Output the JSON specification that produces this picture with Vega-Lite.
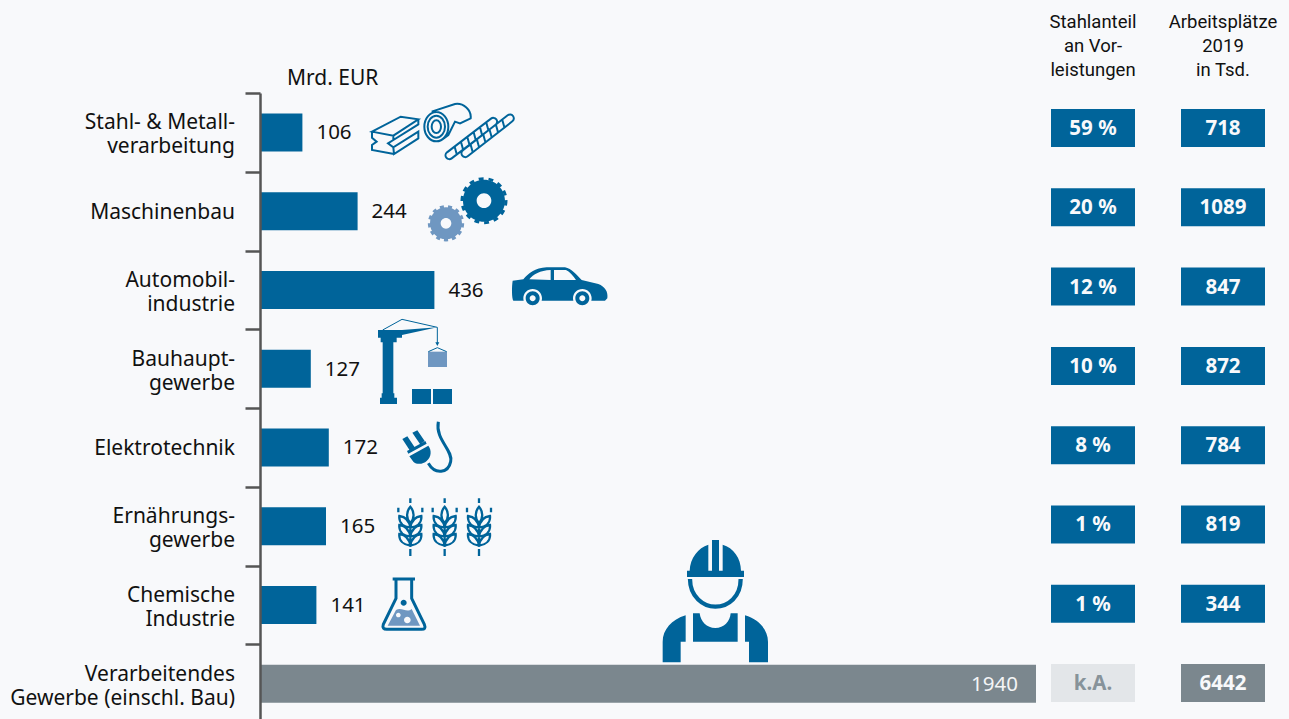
{
"$schema":"https://vega.github.io/schema/vega-lite/v6.json",
"background":"#f8f9fb",
"padding":{"left":0,"top":12,"right":14,"bottom":0},
"bounds":"flush",
"spacing":15,
"config":{"view":{"stroke":null},"font":"Noto Sans","title":{"font":"Roboto","fontSize":18.5,"fontWeight":"normal","color":"#111111","lineHeight":24}},
"data":{"values":[
{"branche":"Stahl- & Metall-|verarbeitung","icon":"stahl","art":"Branche","wert":106,"anteil":"59 %","jobs":718},
{"branche":"Maschinenbau","icon":"zahnrad","art":"Branche","wert":244,"anteil":"20 %","jobs":1089},
{"branche":"Automobil-|industrie","icon":"auto","art":"Branche","wert":436,"anteil":"12 %","jobs":847},
{"branche":"Bauhaupt-|gewerbe","icon":"kran","art":"Branche","wert":127,"anteil":"10 %","jobs":872},
{"branche":"Elektrotechnik","icon":"stecker","art":"Branche","wert":172,"anteil":"8 %","jobs":784},
{"branche":"Ernährungs-|gewerbe","icon":"aehre","art":"Branche","wert":165,"anteil":"1 %","jobs":819},
{"branche":"Chemische|Industrie","icon":"kolben","art":"Branche","wert":141,"anteil":"1 %","jobs":344},
{"branche":"Verarbeitendes|Gewerbe (einschl. Bau)","icon":"gesamt","art":"Gesamt","wert":1940,"anteil":"k.A.","jobs":6442}
]},
"hconcat":[
{"width":776,"height":630,
"title":{"text":"Mrd. EUR","anchor":"start","frame":"group","dx":27,"offset":3,"font":"Noto Sans","fontSize":21},
"encoding":{
"x":{"field":"wert","type":"quantitative","scale":{"domain":[0,1940]},"axis":null},
"y":{"field":"branche","type":"nominal","sort":null,"title":null,
"scale":{"domain":["Stahl- & Metall-|verarbeitung","Maschinenbau","Automobil-|industrie","Bauhaupt-|gewerbe","Elektrotechnik","Ernährungs-|gewerbe","Chemische|Industrie","Verarbeitendes|Gewerbe (einschl. Bau)"],"paddingInner":0,"paddingOuter":0},
"axis":{"tickBand":"extent","tickSize":15,"tickWidth":2.5,"tickColor":"#555555","domainColor":"#555555","domainWidth":2.5,"labels":false,"minExtent":260,"maxExtent":260,"zindex":1}}
},
"layer":[
{"mark":{"type":"bar","size":38},"encoding":{"color":{"condition":{"test":"datum.art=='Gesamt'","value":"#7b878e"},"value":"#00649a"}}},
{"transform":[{"filter":"indexof(datum.branche,'|')>=0"}],"mark":{"type":"text","align":"right","dx":-25,"dy":-9,"fontSize":21,"color":"#111111","lineBreak":"|","lineHeight":24},"encoding":{"x":{"datum":0,"type":"quantitative","axis":null},"text":{"field":"branche","type":"nominal"}}},
{"transform":[{"filter":"indexof(datum.branche,'|')<0"}],"mark":{"type":"text","align":"right","dx":-25,"dy":2,"fontSize":21,"color":"#111111"},"encoding":{"x":{"datum":0,"type":"quantitative","axis":null},"text":{"field":"branche","type":"nominal"}}},
{"transform":[{"filter":"datum.art=='Branche'"}],"mark":{"type":"text","align":"left","dx":14,"dy":1,"fontSize":20.5,"color":"#111111"},"encoding":{"text":{"field":"wert","type":"nominal"}}},
{"transform":[{"filter":"datum.art=='Gesamt'"}],"mark":{"type":"text","align":"right","dx":-18,"dy":1,"fontSize":20.5,"color":"#f4f5f6"},"encoding":{"text":{"field":"wert","type":"nominal"}}},

{"transform":[{"filter":"datum.icon=='stahl'"}],"mark":{"type":"point","size":0.44444,"opacity":1,"filled":false,"stroke":"#00649a","strokeWidth":2,"xOffset":100,"yOffset":-42.375,
"shape":"M36,125 L122,80 L175,88 L100,137 Z M175,88 L175,103 L100,150 L100,137 M100,150 L84,160 L100,172 L175,125 L175,145 L102,192 L100,172 M102,192 L36,180 L36,165 L50,155 L36,143 L36,125 M229,66 C249,66 265,86 265,110 C265,134 249,154 229,154 C209,154 193,134 193,110 C193,86 209,66 229,66 Z M229,77 C243,77 255,92 255,110 C255,128 243,143 229,143 C215,143 203,128 203,110 C203,92 215,77 229,77 Z M229,91 C237,91 243,100 243,110 C243,120 237,129 229,129 C221,129 215,120 215,110 C215,100 221,91 229,91 Z M215,65 L285,42 C310,38 335,60 332,85 L300,100 L285,95 L265,135 L245,150 M261,187 L393,86 A11,11 0 0 1 407,104 L275,205 A11,11 0 0 1 261,187 Z M309,181 L443,76 A11,11 0 0 1 457,94 L323,199 A11,11 0 0 1 309,181 Z M284,170 L290,192 M303,156 L309,178 M322,141 L328,163 M341,127 L347,149 M360,112 L366,134 M379,98 L385,120 M332,164 L338,186 M351,149 L357,171 M370,134 L376,156 M389,120 L395,142 M408,105 L414,127 M427,90 L433,112"},
"encoding":{"x":{"datum":0,"type":"quantitative","axis":null}}},

{"transform":[{"filter":"datum.icon=='zahnrad'"}],"mark":{"type":"point","size":0.44444,"opacity":1,"filled":true,"fill":"#6f97c1","xOffset":100,"yOffset":-121.125,
"shape":"M306,400 A48,48 0 1 1 210,400 A48,48 0 1 1 306,400 Z M274,400 A16,16 0 1 0 242,400 A16,16 0 1 0 274,400 Z"},
"encoding":{"x":{"datum":0,"type":"quantitative","axis":null}}},
{"transform":[{"filter":"datum.icon=='zahnrad'"}],"mark":{"type":"point","size":0.44444,"opacity":1,"filled":false,"stroke":"#6f97c1","strokeWidth":3,"strokeDash":[4,4],"xOffset":100,"yOffset":-121.125,
"shape":"M308,400 A50,50 0 1 1 208,400 A50,50 0 1 1 308,400 Z"},
"encoding":{"x":{"datum":0,"type":"quantitative","axis":null}}},
{"transform":[{"filter":"datum.icon=='zahnrad'"}],"mark":{"type":"point","size":0.44444,"opacity":1,"filled":true,"fill":"#00649a","xOffset":100,"yOffset":-121.125,
"shape":"M435,332 A63,63 0 1 1 309,332 A63,63 0 1 1 435,332 Z M394,332 A22,22 0 1 0 350,332 A22,22 0 1 0 394,332 Z"},
"encoding":{"x":{"datum":0,"type":"quantitative","axis":null}}},
{"transform":[{"filter":"datum.icon=='zahnrad'"}],"mark":{"type":"point","size":0.44444,"opacity":1,"filled":false,"stroke":"#00649a","strokeWidth":3,"strokeDash":[4.9,4.9],"xOffset":100,"yOffset":-121.125,
"shape":"M438,332 A66,66 0 1 1 306,332 A66,66 0 1 1 438,332 Z"},
"encoding":{"x":{"datum":0,"type":"quantitative","axis":null}}},

{"transform":[{"filter":"datum.icon=='auto'"}],"mark":{"type":"point","size":0.44444,"opacity":1,"filled":true,"fill":"#00649a","xOffset":100,"yOffset":-199.875,
"shape":"M458,572 L490,568 C505,550 525,534 560,532 L615,532 C635,536 650,555 665,570 L715,582 C735,590 745,605 742,625 L735,632 L460,632 C455,625 455,590 458,572 Z"},
"encoding":{"x":{"datum":0,"type":"quantitative","axis":null}}},
{"transform":[{"filter":"datum.icon=='auto'"}],"mark":{"type":"point","size":0.44444,"opacity":1,"filled":true,"fill":"#f8f9fb","xOffset":100,"yOffset":-199.875,
"shape":"M508,568 C520,552 540,542 572,540 L572,570 Z M582,540 L618,540 C630,545 640,558 648,570 L582,570 Z M546,625 A28,28 0 1 1 490,625 A28,28 0 1 1 546,625 Z M695,625 A28,28 0 1 1 639,625 A28,28 0 1 1 695,625 Z"},
"encoding":{"x":{"datum":0,"type":"quantitative","axis":null}}},
{"transform":[{"filter":"datum.icon=='auto'"}],"mark":{"type":"point","size":0.44444,"opacity":1,"filled":true,"fill":"#00649a","xOffset":100,"yOffset":-199.875,
"shape":"M539,625 A21,21 0 1 1 497,625 A21,21 0 1 1 539,625 Z M527,625 A9,9 0 1 0 509,625 A9,9 0 1 0 527,625 Z M688,625 A21,21 0 1 1 646,625 A21,21 0 1 1 688,625 Z M676,625 A9,9 0 1 0 658,625 A9,9 0 1 0 676,625 Z"},
"encoding":{"x":{"datum":0,"type":"quantitative","axis":null}}},

{"transform":[{"filter":"datum.icon=='kran'"}],"mark":{"type":"point","size":0.44444,"opacity":1,"filled":true,"fill":"#6f97c1","xOffset":100,"yOffset":-53.625,
"shape":"M204,110 L261,110 L261,156 L204,156 Z"},
"encoding":{"x":{"datum":0,"type":"quantitative","axis":null}}},
{"transform":[{"filter":"datum.icon=='kran'"}],"mark":{"type":"point","size":0.44444,"opacity":1,"filled":true,"fill":"#00649a","xOffset":100,"yOffset":-53.625,
"shape":"M54,45 L126,45 L232,37 L126,60 L126,68 L110,68 L110,82 L100,82 L100,235 L103,235 L103,248 L111,248 L111,267 L60,267 L60,248 L65,248 L65,235 L68,235 L68,82 L62,82 L62,68 L54,68 Z M156,222 L213,222 L213,267 L156,267 Z M219,222 L276,222 L276,267 L219,267 Z M226,82 L238,82 L232,93 Z"},
"encoding":{"x":{"datum":0,"type":"quantitative","axis":null}}},
{"transform":[{"filter":"datum.icon=='kran'"}],"mark":{"type":"point","size":0.44444,"opacity":1,"filled":false,"stroke":"#00649a","strokeWidth":1,"xOffset":100,"yOffset":-53.625,
"shape":"M68,45 L126,13 L232,37 L232,85 M205,110 L232,98 L260,110"},
"encoding":{"x":{"datum":0,"type":"quantitative","axis":null}}},

{"transform":[{"filter":"datum.icon=='stecker'"}],"mark":{"type":"point","size":0.44444,"opacity":1,"filled":true,"fill":"#00649a","xOffset":100,"yOffset":-132.375,
"shape":"M127,372 L142,364 L165,398 L150,407 Z M157,353 L172,346 L194,378 L180,387 Z M141,408 L196,378 L200,386 L145,416 Z M148,424 L205,392 C215,405 215,425 200,438 C190,448 170,450 160,440 Z"},
"encoding":{"x":{"datum":0,"type":"quantitative","axis":null}}},
{"transform":[{"filter":"datum.icon=='stecker'"}],"mark":{"type":"point","size":0.44444,"opacity":1,"filled":false,"stroke":"#00649a","strokeWidth":3,"xOffset":100,"yOffset":-132.375,
"shape":"M205,445 C225,480 265,475 272,440 C280,405 225,375 235,320"},
"encoding":{"x":{"datum":0,"type":"quantitative","axis":null}}},

{"transform":[{"filter":"datum.icon=='aehre'"}],"mark":{"type":"point","size":0.44444,"opacity":1,"filled":false,"stroke":"#00649a","strokeWidth":2.3,"xOffset":150.33,"yOffset":-41.125,
"shape":"M0,40 L0,54 M0,65 C13,80 13,100 0,115 C-13,100 -13,80 0,65 Z M0,115 L0,180 M0,192 L0,213 M-36,68 L-36,82 M36,68 L36,82 M-33,93 C-15,95 -3,108 0,128 C-20,125 -35,113 -33,93 Z M-33,120 C-15,122 -3,135 0,155 C-20,152 -35,140 -33,120 Z M-33,147 C-15,149 -3,162 0,182 C-20,179 -35,167 -33,147 Z M33,93 C15,95 3,108 0,128 C20,125 35,113 33,93 Z M33,120 C15,122 3,135 0,155 C20,152 35,140 33,120 Z M33,147 C15,149 3,162 0,182 C20,179 35,167 33,147 Z"},
"encoding":{"x":{"datum":0,"type":"quantitative","axis":null}}},
{"transform":[{"filter":"datum.icon=='aehre'"}],"mark":{"type":"point","size":0.44444,"opacity":1,"filled":false,"stroke":"#00649a","strokeWidth":2.3,"xOffset":184.66,"yOffset":-41.125,
"shape":"M0,40 L0,54 M0,65 C13,80 13,100 0,115 C-13,100 -13,80 0,65 Z M0,115 L0,180 M0,192 L0,213 M-36,68 L-36,82 M36,68 L36,82 M-33,93 C-15,95 -3,108 0,128 C-20,125 -35,113 -33,93 Z M-33,120 C-15,122 -3,135 0,155 C-20,152 -35,140 -33,120 Z M-33,147 C-15,149 -3,162 0,182 C-20,179 -35,167 -33,147 Z M33,93 C15,95 3,108 0,128 C20,125 35,113 33,93 Z M33,120 C15,122 3,135 0,155 C20,152 35,140 33,120 Z M33,147 C15,149 3,162 0,182 C20,179 35,167 33,147 Z"},
"encoding":{"x":{"datum":0,"type":"quantitative","axis":null}}},
{"transform":[{"filter":"datum.icon=='aehre'"}],"mark":{"type":"point","size":0.44444,"opacity":1,"filled":false,"stroke":"#00649a","strokeWidth":2.3,"xOffset":219,"yOffset":-41.125,
"shape":"M0,40 L0,54 M0,65 C13,80 13,100 0,115 C-13,100 -13,80 0,65 Z M0,115 L0,180 M0,192 L0,213 M-36,68 L-36,82 M36,68 L36,82 M-33,93 C-15,95 -3,108 0,128 C-20,125 -35,113 -33,93 Z M-33,120 C-15,122 -3,135 0,155 C-20,152 -35,140 -33,120 Z M-33,147 C-15,149 -3,162 0,182 C-20,179 -35,167 -33,147 Z M33,93 C15,95 3,108 0,128 C20,125 35,113 33,93 Z M33,120 C15,122 3,135 0,155 C20,152 35,140 33,120 Z M33,147 C15,149 3,162 0,182 C20,179 35,167 33,147 Z"},
"encoding":{"x":{"datum":0,"type":"quantitative","axis":null}}},

{"transform":[{"filter":"datum.icon=='kolben'"}],"mark":{"type":"point","size":0.44444,"opacity":1,"filled":true,"fill":"#6f97c1","xOffset":110,"yOffset":-119.875,
"shape":"M78,375 C95,365 110,385 125,372 L150,422 L53,422 Z M92,390 A7,7 0 1 0 78,390 A7,7 0 1 0 92,390 Z M122,405 A10,10 0 1 0 102,405 A10,10 0 1 0 122,405 Z"},
"encoding":{"x":{"datum":0,"type":"quantitative","axis":null}}},
{"transform":[{"filter":"datum.icon=='kolben'"}],"mark":{"type":"point","size":0.44444,"opacity":1,"filled":true,"fill":"#00649a","xOffset":110,"yOffset":-119.875,
"shape":"M110,353 A9,9 0 1 1 92,353 A9,9 0 1 1 110,353 Z"},
"encoding":{"x":{"datum":0,"type":"quantitative","axis":null}}},
{"transform":[{"filter":"datum.icon=='kolben'"}],"mark":{"type":"point","size":0.44444,"opacity":1,"filled":false,"stroke":"#00649a","strokeWidth":3,"xOffset":110,"yOffset":-119.875,
"shape":"M68,282 L135,282 M78,285 L78,340 L40,418 C36,430 42,433 50,433 L155,433 C163,433 168,430 163,418 L125,340 L125,285"},
"encoding":{"x":{"datum":0,"type":"quantitative","axis":null}}},

{"transform":[{"filter":"datum.icon=='kolben'"}],"mark":{"type":"point","size":0.44444,"opacity":1,"filled":true,"fill":"#00649a","xOffset":380,"yOffset":-74.875,
"shape":"M149,122 C150,85 175,52 205,44 L205,122 Z M216,30 L237,30 L237,122 L216,122 Z M248,44 C280,52 303,85 303,122 L248,122 Z M141,122 L312,122 L312,141 L141,141 Z M137,256 C95,268 68,300 68,335 L68,397 L122,397 L122,335 L137,335 Z M315,256 C357,268 384,300 384,335 L384,397 L327,397 L327,335 L315,335 Z M159,250 L179,250 C182,275 200,294 226,294 C252,294 270,275 272,250 L293,250 L293,335 L159,335 Z"},
"encoding":{"x":{"datum":0,"type":"quantitative","axis":null}}},
{"transform":[{"filter":"datum.icon=='kolben'"}],"mark":{"type":"point","size":0.44444,"opacity":1,"filled":false,"stroke":"#00649a","strokeWidth":4.3,"xOffset":380,"yOffset":-74.875,
"shape":"M150,147 C150,200 190,230 226,230 C265,230 302,200 302,147"},
"encoding":{"x":{"datum":0,"type":"quantitative","axis":null}}}
]},
{"hconcat":[
{"width":84,"height":630,
"title":{"text":["Stahlanteil","an Vor-","leistungen"],"anchor":"middle","offset":14},
"encoding":{"y":{"field":"branche","type":"nominal","sort":null,"axis":null,
"scale":{"domain":["Stahl- & Metall-|verarbeitung","Maschinenbau","Automobil-|industrie","Bauhaupt-|gewerbe","Elektrotechnik","Ernährungs-|gewerbe","Chemische|Industrie","Verarbeitendes|Gewerbe (einschl. Bau)"],"range":[-4.65,629.7],"paddingInner":0,"paddingOuter":0}}},
"layer":[
{"mark":{"type":"bar","size":38},"encoding":{"x":{"datum":1,"type":"quantitative","scale":{"domain":[0,1]},"axis":null},
"color":{"condition":[{"test":"datum.anteil=='k.A.'","value":"#e3e6e9"},{"test":"datum.art=='Gesamt'","value":"#7b878e"}],"value":"#00649a"}}},
{"mark":{"type":"text","fontSize":20.5,"fontWeight":"bold","dy":1},"encoding":{"x":{"datum":0.5,"type":"quantitative","axis":null},"text":{"field":"anteil","type":"nominal"},
"color":{"condition":{"test":"datum.anteil=='k.A.'","value":"#87939a"},"value":"#f8f9fb"}}}
]},
{"width":84,"height":630,
"title":{"text":["Arbeitsplätze","2019","in Tsd."],"anchor":"middle","offset":14},
"encoding":{"y":{"field":"branche","type":"nominal","sort":null,"axis":null,
"scale":{"domain":["Stahl- & Metall-|verarbeitung","Maschinenbau","Automobil-|industrie","Bauhaupt-|gewerbe","Elektrotechnik","Ernährungs-|gewerbe","Chemische|Industrie","Verarbeitendes|Gewerbe (einschl. Bau)"],"range":[-4.65,629.7],"paddingInner":0,"paddingOuter":0}}},
"layer":[
{"mark":{"type":"bar","size":38},"encoding":{"x":{"datum":1,"type":"quantitative","scale":{"domain":[0,1]},"axis":null},
"color":{"condition":{"test":"datum.art=='Gesamt'","value":"#7b878e"},"value":"#00649a"}}},
{"mark":{"type":"text","fontSize":20.5,"fontWeight":"bold","dy":1,"color":"#f8f9fb"},"encoding":{"x":{"datum":0.5,"type":"quantitative","axis":null},"text":{"field":"jobs","type":"nominal"}}}
]}
],"spacing":46,"bounds":"flush"}
]
}
